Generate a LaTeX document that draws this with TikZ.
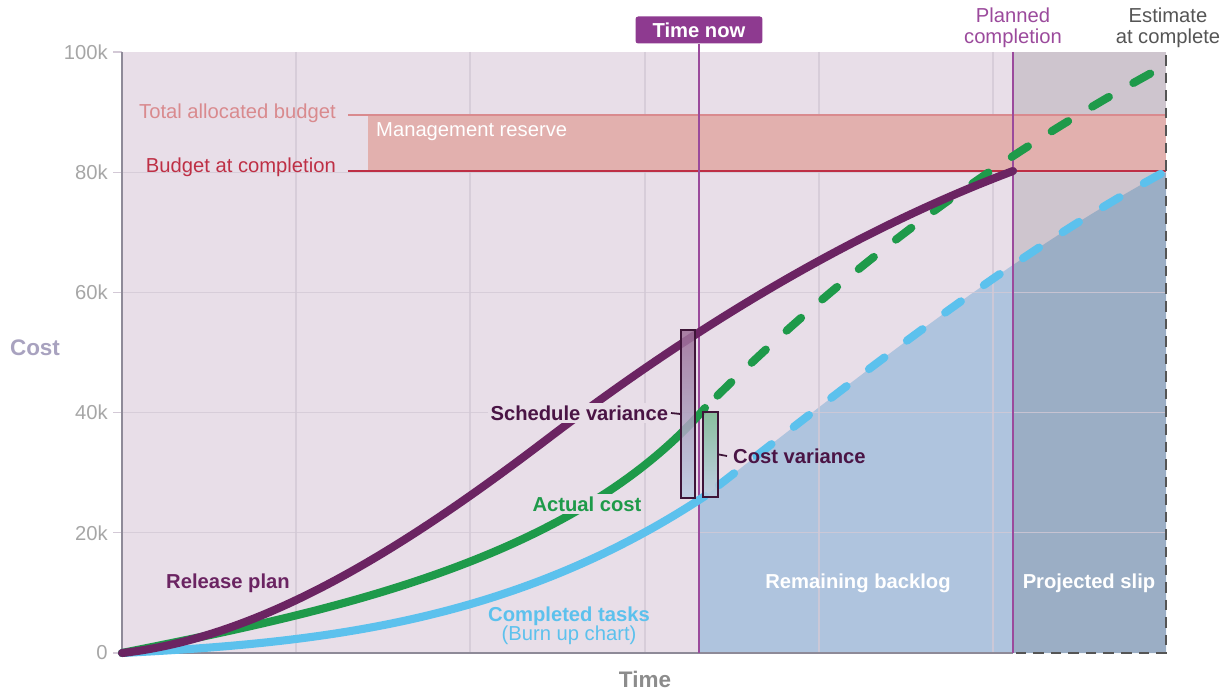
\documentclass[tikz,border=0pt]{standalone}
\usepackage{fontspec}
\setmainfont{Liberation Sans}
\usepackage{xcolor}
\usepackage{tikz}
\usetikzlibrary{positioning}

\definecolor{plotbg}{HTML}{E8DEE8}
\definecolor{gridcol}{HTML}{D3C9D6}
\definecolor{backlog}{HTML}{AFC4DE}
\definecolor{reservefill}{HTML}{E2B0AE}
\definecolor{tabred}{HTML}{D98A8E}
\definecolor{bacred}{HTML}{BE2F45}
\definecolor{markpurple}{HTML}{9B4A9C}
\definecolor{nowpurple}{HTML}{8E3A90}
\definecolor{estgray}{HTML}{555555}
\definecolor{releasecol}{HTML}{6B2462}
\definecolor{actualcol}{HTML}{1E9A4A}
\definecolor{burncol}{HTML}{5CC1ED}
\definecolor{vardark}{HTML}{3E1538}
\definecolor{svtext}{HTML}{4A1445}
\definecolor{ticktext}{HTML}{A6A6A6}
\definecolor{axiscol}{HTML}{8E8A98}
\definecolor{costlbl}{HTML}{A8A2BF}
\definecolor{timelbl}{HTML}{8C8C8C}

\begin{document}
\begin{tikzpicture}[
    x=0.02cm, y=-0.02cm,
    lbl/.style={font=\fontsize{11.5}{13}\selectfont},
    blbl/.style={font=\fontsize{11.5}{13}\selectfont\bfseries},
    ticklbl/.style={lbl, text=ticktext, anchor=east, inner sep=0pt},
    gridline/.style={draw=gridcol, line width=0.6pt},
    markline/.style={draw=markpurple, line width=0.9pt},
    curve/.style={line width=4.6pt, line cap=round, line join=round},
    dashcurve/.style={curve, dash pattern=on 11pt off 16pt, dash phase=17pt},
    varbox/.style={draw=vardark, line width=1pt, fill opacity=0.85, inner sep=0pt},
    varline/.style={draw=vardark, line width=1pt}
]
\useasboundingbox (0,0) rectangle (1223,692);

% Plot area and projected slip
\fill[plotbg] (122,52) rectangle (1166,653);
\fill[backlog] (699,653) -- (699,501) -- (705,496) .. controls (859,376) and (1012,254) .. (1166,171) -- (1166,653) -- cycle;
\fill[black, opacity=0.11] (1013,52) rectangle (1166,653);

% Grid
\foreach \gx in {296,470,645,819,993}
  \draw[gridline, opacity=0.8] (\gx,52) -- (\gx,653);
\foreach \v in {20,40,60,80}
  \draw[gridline, opacity=0.8] (122,{653-6.01*\v}) -- (1166,{653-6.01*\v});

% Axes and tick labels
\foreach \v/\lab in {0/0,20/20k,40/40k,60/60k,80/80k,100/100k} {
  \node[ticklbl] (tick\v) at (108,{653-6.01*\v}) {\lab};
  \draw[gridline] (113,{653-6.01*\v}) -- (122,{653-6.01*\v});
}
\draw[draw=axiscol, line width=0.9pt] (122,52) -- (122,653) -- (1013,653);
\node[blbl, font=\fontsize{12.8}{14}\selectfont\bfseries, text=costlbl] (costax) at (35,348) {Cost};
\node[blbl, font=\fontsize{12.8}{14}\selectfont\bfseries, text=timelbl] (timeax) at (645,679) {Time};

% Budget band
\fill[reservefill] (368,115) rectangle (1166,171);
\draw[tabred, line width=1pt] (348,115) -- (1166,115);
\draw[bacred, line width=1pt] (348,171) -- (1166,171);
\node[lbl, text=tabred, anchor=east] (tab) at (342,113) {Total allocated budget};
\node[lbl, text=bacred, anchor=east] (bac) at (342,167) {Budget at completion};
\node[lbl, text=white, anchor=west] (reserve) at (370,132) {Management reserve};

% Time markers
\node[blbl, fill=nowpurple, text=white, rounded corners=1.5pt, minimum width=2.54cm, minimum height=0.54cm, inner sep=0pt] (now) at (699,30) {Time now};
\draw[markline] (now.south) -- (699,653);
\node[lbl, text=markpurple, align=center, font=\fontsize{11.5}{12}\selectfont] (planned) at (1013,28) {Planned\\completion};
\draw[markline] (1013,52) -- (1013,653);
\node[lbl, text=estgray, align=center, font=\fontsize{11.5}{12}\selectfont] (estimate) at (1168,28) {Estimate\\at complete};
\draw[estgray, line width=1.3pt, dash pattern=on 6pt off 4pt] (1166,55) -- (1166,653) -- (1013,653);

% Completed tasks
\draw[curve, burncol] (122,653) .. controls (316,643) and (511,624) .. (705,496);
\draw[dashcurve, burncol] (705,496) .. controls (859,376) and (1012,254) .. (1166,171);

% Actual cost
\draw[curve, actualcol] (122,653) .. controls (322,613) and (570,563) .. (705,408);
\draw[dashcurve, actualcol] (705,408) .. controls (859,254) and (1012,148) .. (1166,65);

% Release plan
\draw[curve, releasecol] (122,653) .. controls (265,637) and (407,546) .. (550,437)
  .. controls (704,320) and (859,229) .. (1013,171);

% Variances
\node[varbox, minimum width=0.28cm, minimum height=3.36cm, top color=releasecol!60!plotbg, bottom color=backlog!85!white] (svbar) at (688,414) {};
\node[varbox, minimum width=0.3cm, minimum height=1.7cm, top color=actualcol!55!plotbg, bottom color=backlog!85!white] (cvbar) at (710.5,454.5) {};
\node[blbl, text=svtext, fill=plotbg, inner sep=1.5pt, anchor=east] (svlbl) at (671,413) {Schedule variance};
\node[blbl, text=svtext, anchor=west] (cvlbl) at (727,456) {Cost variance};
\draw[varline] (svlbl.east) -- (svbar.west);
\draw[varline] (cvbar.east) -- (cvlbl.west);

% Series labels
\node[blbl, text=releasecol] (release) at (228,583) {Release plan};
\node[blbl, text=actualcol, fill=plotbg, inner sep=1.5pt] (actual) at (587,504) {Actual cost};
\node[blbl, text=burncol, align=center, font=\fontsize{11.5}{11}\selectfont\bfseries] (burn) at (569,626) {Completed tasks\\{\mdseries(Burn up chart)}};
\node[blbl, text=white] (remaining) at (858,583) {Remaining backlog};
\node[blbl, text=white] (slip) at (1089,583) {Projected slip};
\end{tikzpicture}
\end{document}
